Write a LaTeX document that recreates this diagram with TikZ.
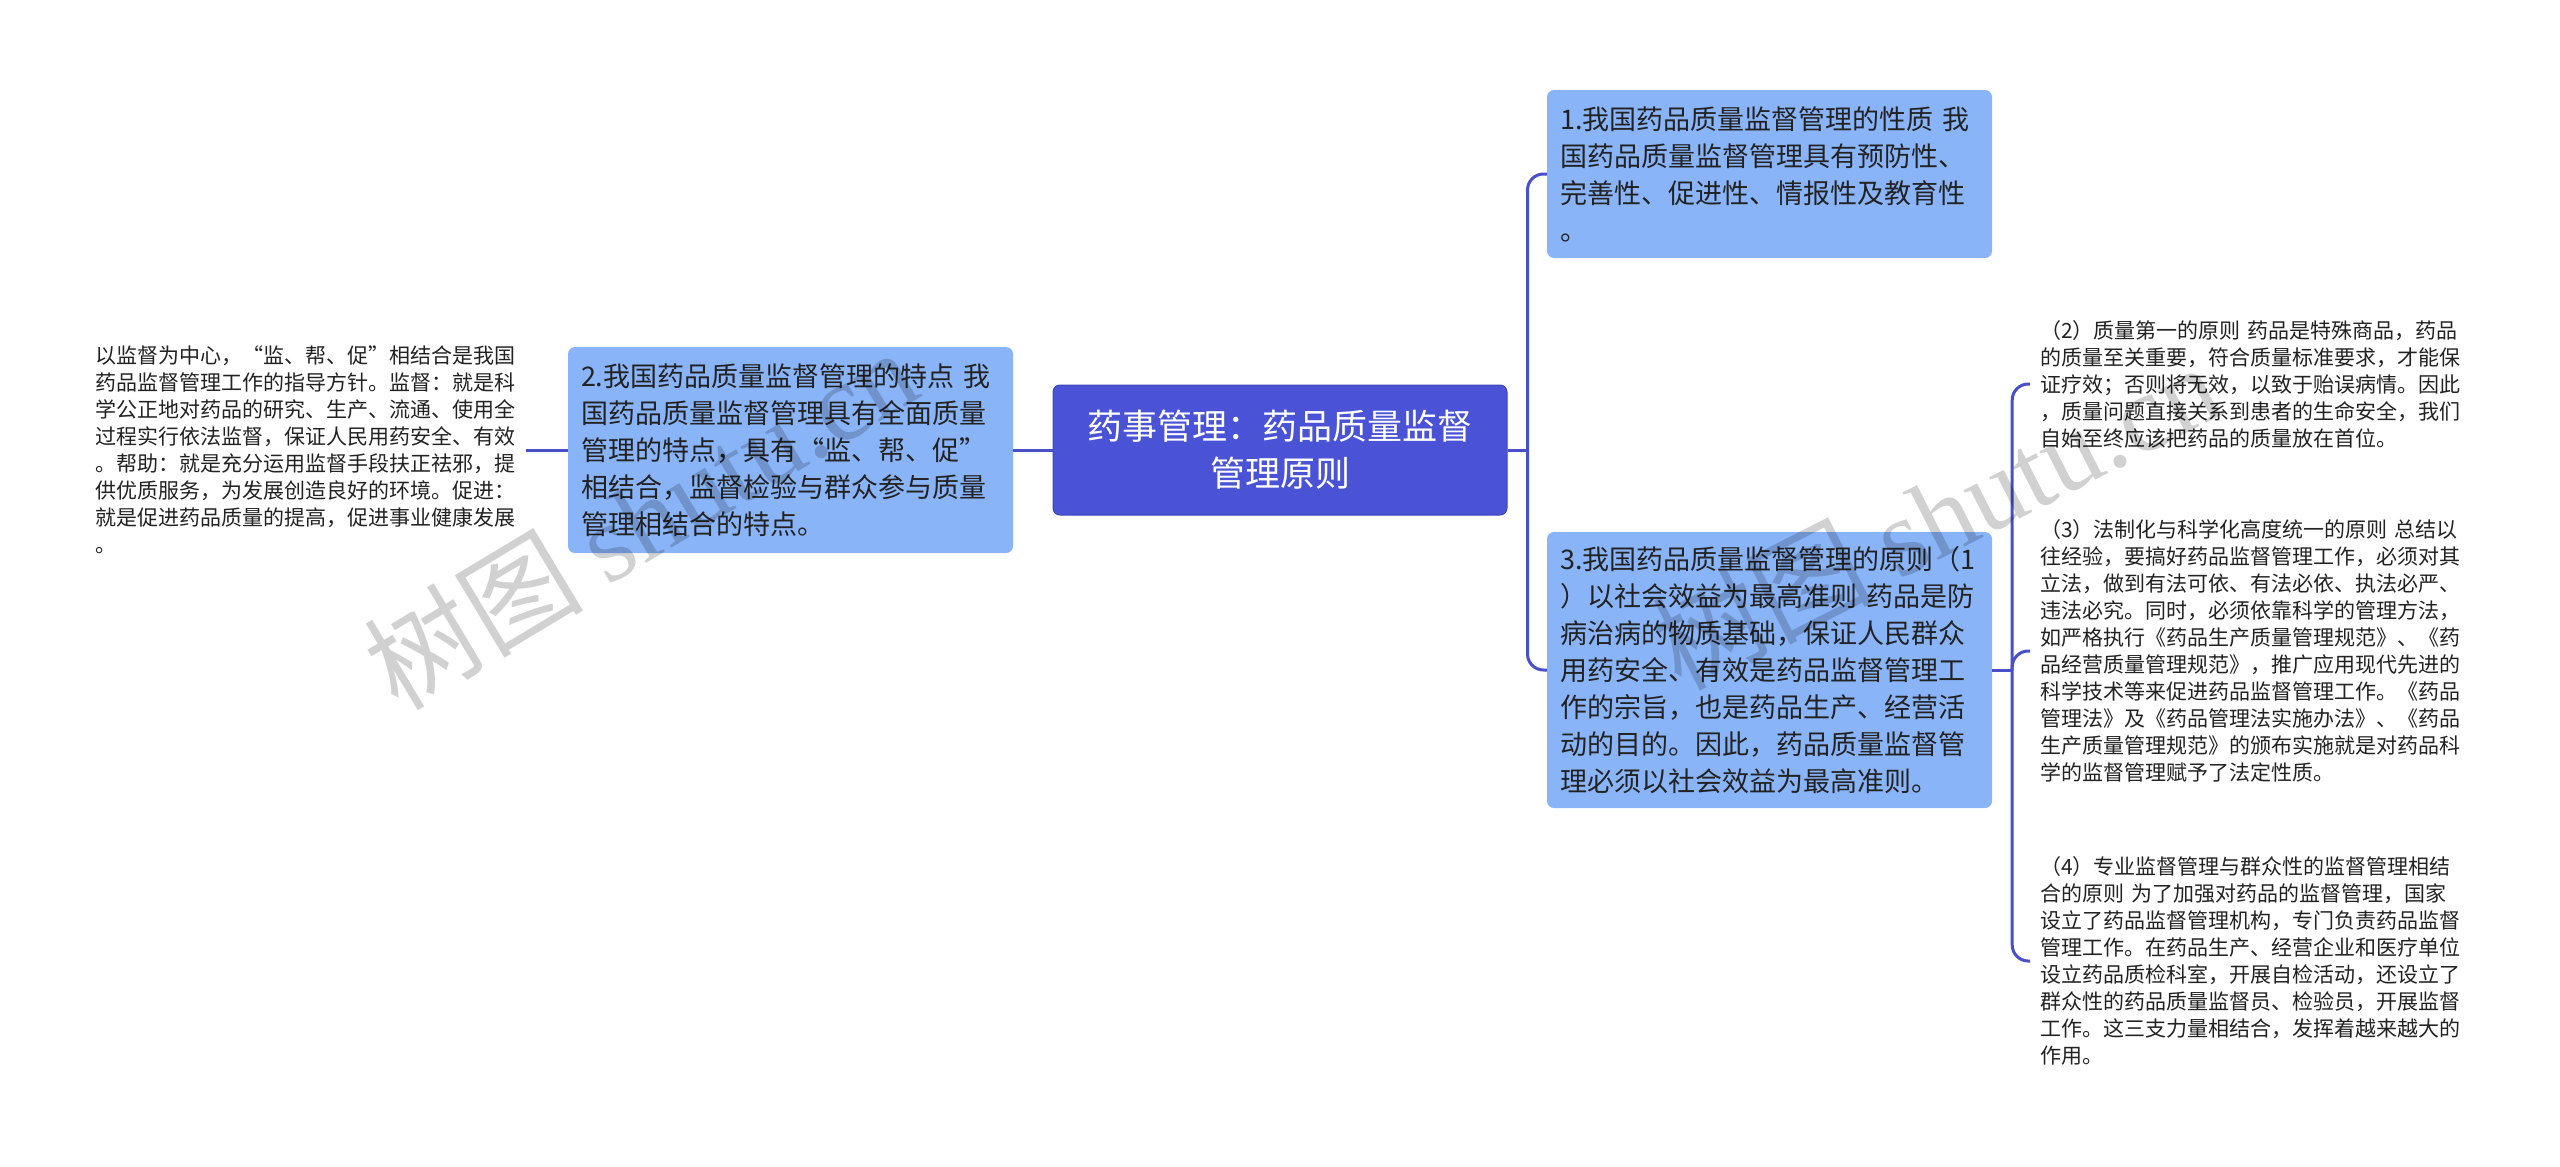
\documentclass[tikz,border=0pt]{standalone}
\usepackage{fontspec}
\setmainfont{Noto Sans CJK SC}
\newfontfamily\wmfont{Liberation Serif}
\usepackage{xcolor}
\usepackage{tikz}
\usetikzlibrary{positioning}
\definecolor{rootblue}{RGB}{74,82,214}
\definecolor{topicblue}{RGB}{138,180,248}
\definecolor{linkblue}{RGB}{72,80,200}
\definecolor{inkgray}{RGB}{34,34,34}

\begin{document}
\begin{tikzpicture}[x=1pt,y=-1pt]
	\tikzstyle{root}=[rectangle,rounded corners=7pt,fill=rootblue,draw=rootblue!85!black,line width=1pt,text=white,align=center,minimum width=454pt,minimum height=130pt,font=\fontsize{35}{47}\selectfont]
	\tikzstyle{topic}=[rectangle,rounded corners=7pt,fill=topicblue,text=inkgray,align=left,text width=419pt,inner xsep=13pt,font=\fontsize{27}{37}\selectfont]
	\tikzstyle{leaf}=[align=left,text width=420pt,inner xsep=10pt,inner ysep=0pt,text=inkgray,font=\fontsize{21}{27}\selectfont]
	\tikzstyle{link}=[draw=linkblue,line width=3pt]
	\tikzstyle{wmark}=[text=black,text opacity=0.18,font=\fontsize{110}{110}\selectfont]
	\useasboundingbox[fill=white] (0,0) rectangle (2560,1167);
	% main topic
	\node[root](root) at (1280,450) {药事管理：药品质量监督\\管理原则};
	% first level
	\node[topic,minimum height=168pt](t1) at (1769.5,174) {1.我国药品质量监督管理的性质 我\\国药品质量监督管理具有预防性、\\完善性、促进性、情报性及教育性\\。};
	\node[topic,minimum height=206pt](t2) at (790.5,450) {2.我国药品质量监督管理的特点 我\\国药品质量监督管理具有全面质量\\管理的特点，具有“监、帮、促”\\相结合，监督检验与群众参与质量\\管理相结合的特点。};
	\node[topic,minimum height=276pt](t3) at (1769.5,670) {3.我国药品质量监督管理的原则（1\\）以社会效益为最高准则 药品是防\\病治病的物质基础，保证人民群众\\用药安全、有效是药品监督管理工\\作的宗旨，也是药品生产、经营活\\动的目的。因此，药品质量监督管\\理必须以社会效益为最高准则。};
	% details
	\node[leaf,anchor=east](d2) at (526,450) {以监督为中心，“监、帮、促”相结合是我国\\药品监督管理工作的指导方针。监督：就是科\\学公正地对药品的研究、生产、流通、使用全\\过程实行依法监督，保证人民用药安全、有效\\。帮助：就是充分运用监督手段扶正祛邪，提\\供优质服务，为发展创造良好的环境。促进：\\就是促进药品质量的提高，促进事业健康发展\\。};
	\node[leaf,anchor=west](p2) at (2030,384) {（2）质量第一的原则 药品是特殊商品，药品\\的质量至关重要，符合质量标准要求，才能保\\证疗效；否则将无效，以致于贻误病情。因此\\，质量问题直接关系到患者的生命安全，我们\\自始至终应该把药品的质量放在首位。};
	\node[leaf,anchor=west](p3) at (2030,651) {（3）法制化与科学化高度统一的原则 总结以\\往经验，要搞好药品监督管理工作，必须对其\\立法，做到有法可依、有法必依、执法必严、\\违法必究。同时，必须依靠科学的管理方法，\\如严格执行《药品生产质量管理规范》、《药\\品经营质量管理规范》，推广应用现代先进的\\科学技术等来促进药品监督管理工作。《药品\\管理法》及《药品管理法实施办法》、《药品\\生产质量管理规范》的颁布实施就是对药品科\\学的监督管理赋予了法定性质。};
	\node[leaf,anchor=west](p4) at (2030,961) {（4）专业监督管理与群众性的监督管理相结\\合的原则 为了加强对药品的监督管理，国家\\设立了药品监督管理机构，专门负责药品监督\\管理工作。在药品生产、经营企业和医疗单位\\设立药品质检科室，开展自检活动，还设立了\\群众性的药品质量监督员、检验员，开展监督\\工作。这三支力量相结合，发挥着越来越大的\\作用。};
	% connectors
	\draw[link] (root.east) -- ++(20,0) coordinate (j1);
	\draw[link,rounded corners=16pt] (j1) |- (t1.west);
	\draw[link,rounded corners=16pt] (j1) |- (t3.west);
	\draw[link] (root.west) -- (t2.east);
	\draw[link] (t2.west) -- (d2.east);
	\draw[link] (t3.east) -- ++(20,0) coordinate (j2);
	\draw[link,rounded corners=16pt] (j2) |- (p2.west);
	\draw[link,rounded corners=16pt] (j2) |- (p3.west);
	\draw[link,rounded corners=16pt] (j2) |- (p4.west);
	% watermark
	\node[wmark,rotate=31](wm1) at (640,518) {树图 {\wmfont shutu.cn}};
	\node[wmark,rotate=27](wm2) at (1935,515) {树图 {\wmfont shutu.cn}};
\end{tikzpicture}
\end{document}
